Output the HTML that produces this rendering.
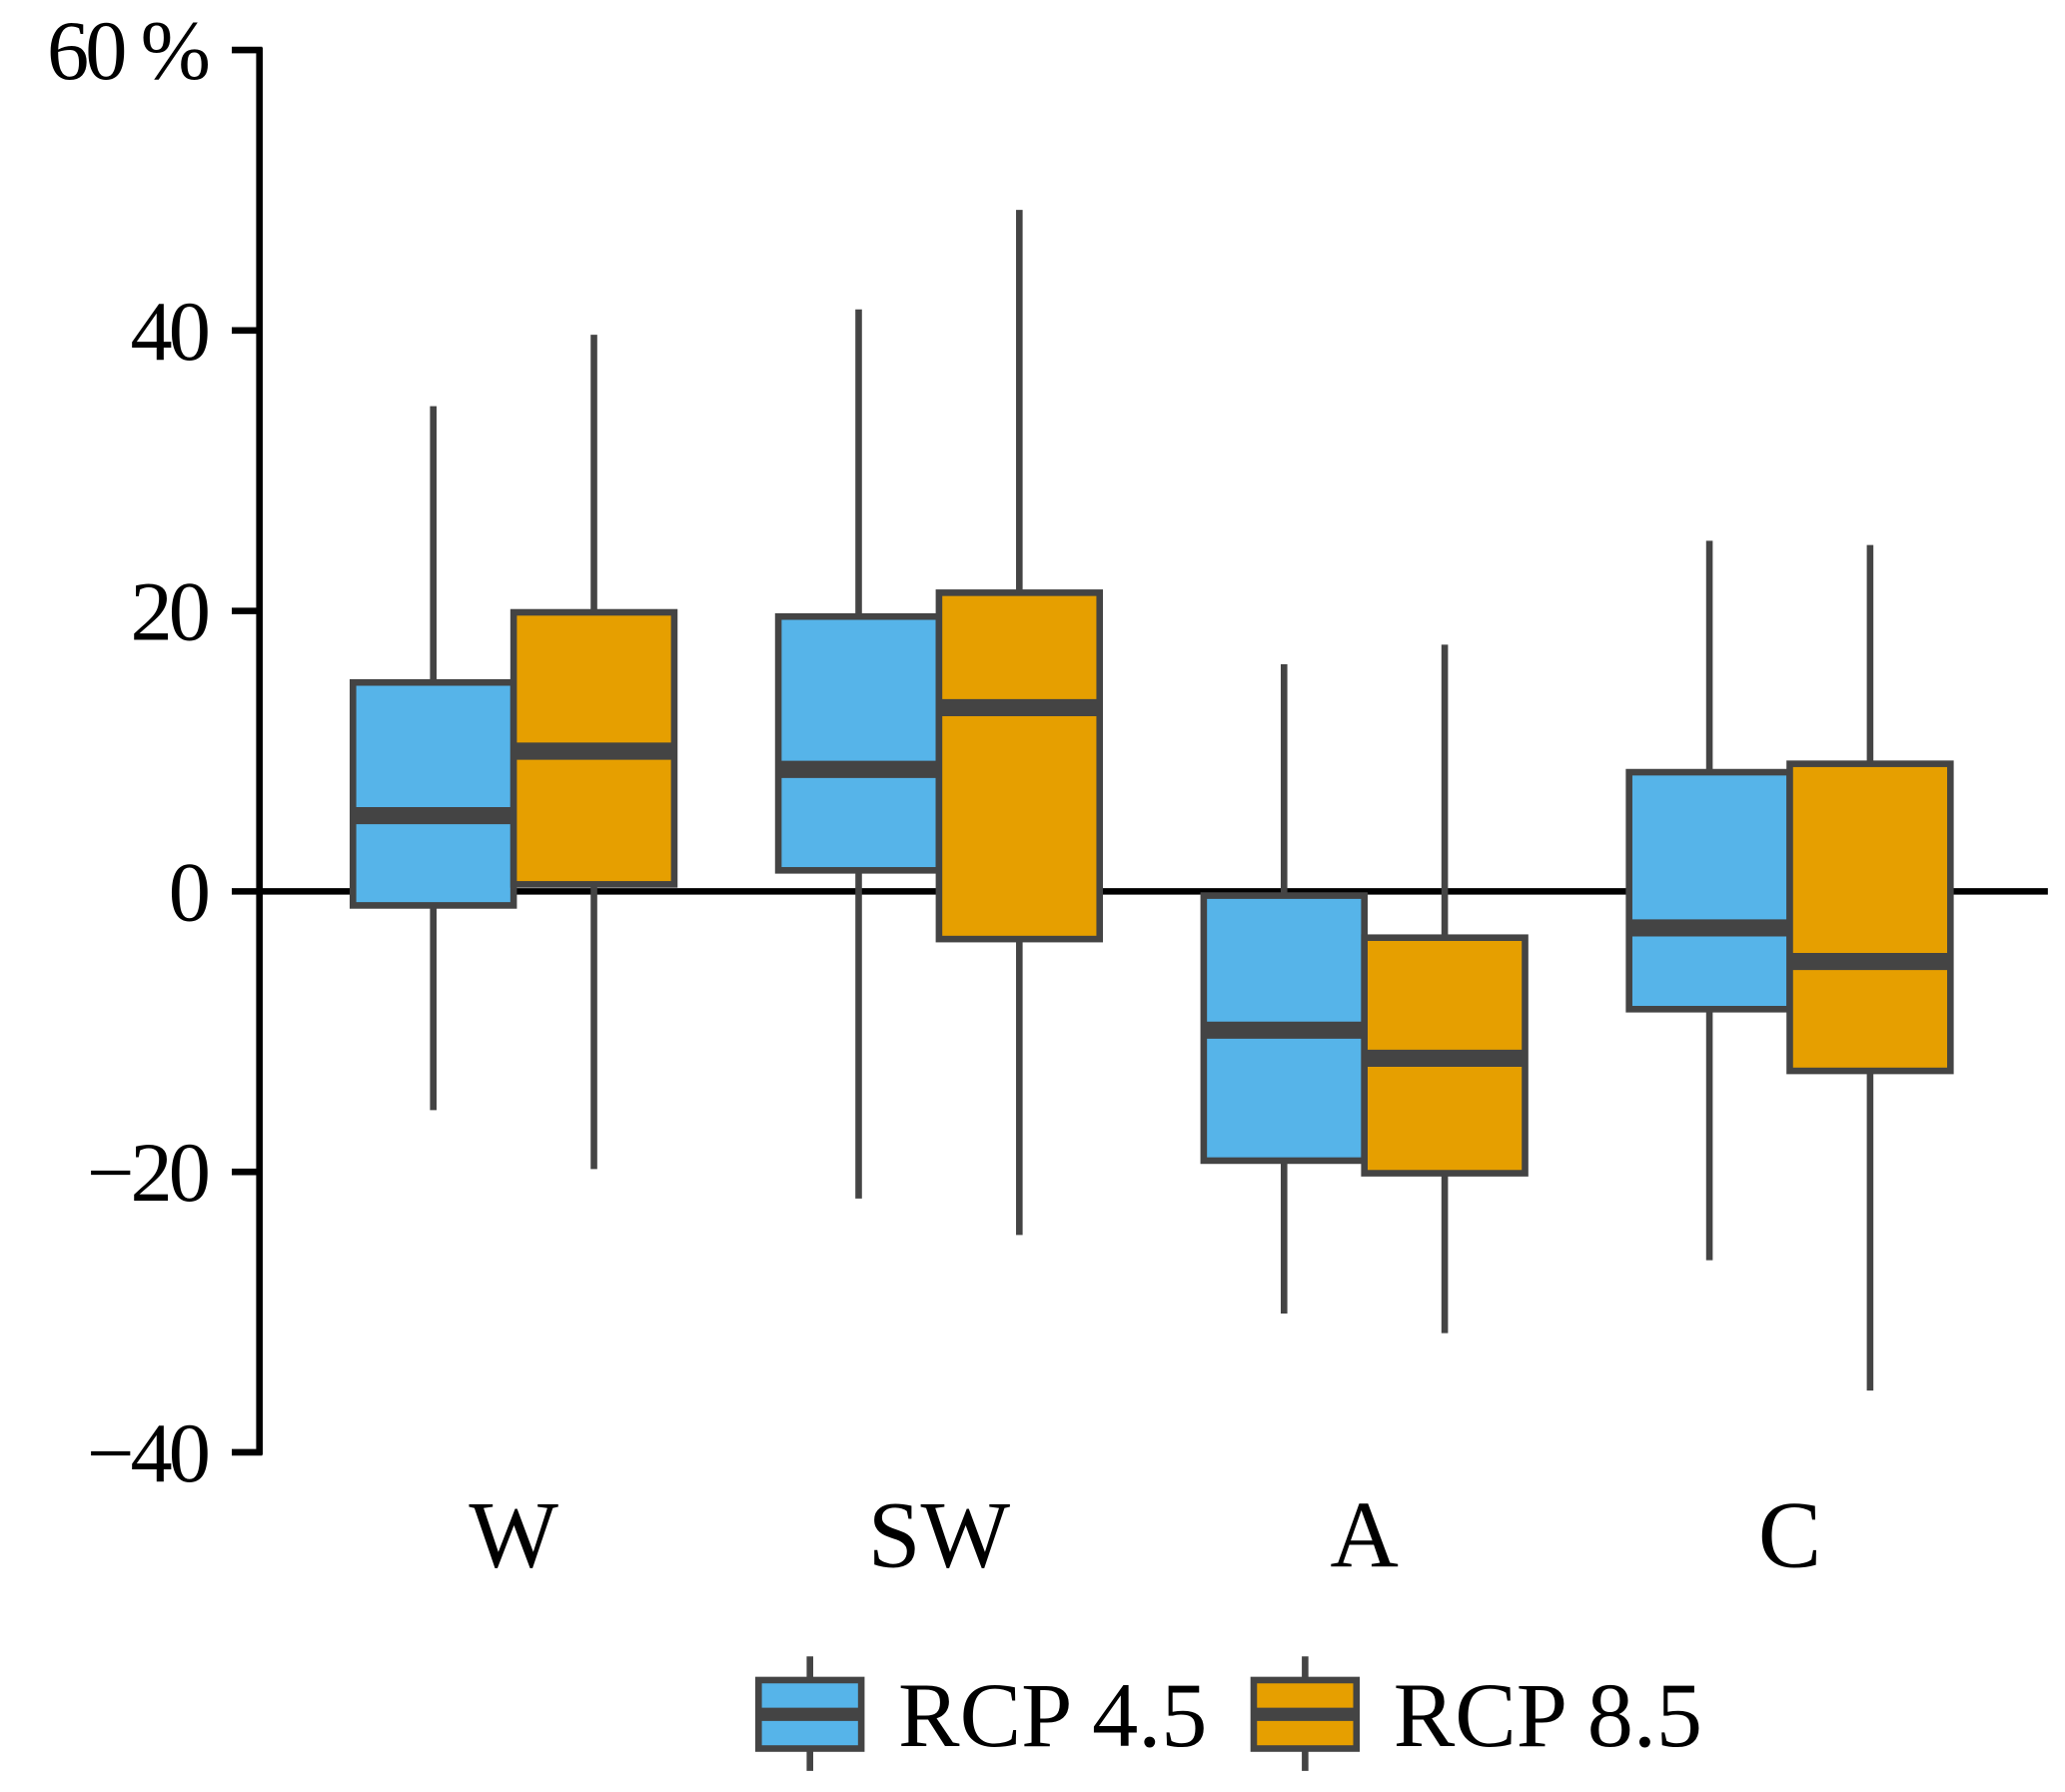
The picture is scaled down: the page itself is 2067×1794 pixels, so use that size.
<!DOCTYPE html>
<html><head><meta charset="utf-8"><style>
html,body{margin:0;padding:0;background:#fff;}
svg{display:block;}
text{font-family:"Liberation Serif",serif;fill:#000;}
</style></head><body>
<svg id="chart" width="2067" height="1794" viewBox="0 0 1568 1361" preserveAspectRatio="none" xmlns="http://www.w3.org/2000/svg">
<g id="axes"></g><g id="boxes"></g><g id="legend"></g>
</svg>
<script>
const categories=["W","SW","A","C"];
const seriesNames=["RCP 4.5","RCP 8.5"];
const seriesColors=["#56b4e9","#e69f00"];
const rcp45Min=[-15.6,-21.9,-30.1,-26.3];
const rcp45Q1=[-1.0,1.5,-19.2,-8.4];
const rcp45Med=[5.4,8.7,-9.9,-2.6];
const rcp45Q3=[14.9,19.6,-0.3,8.5];
const rcp45Max=[34.6,41.5,16.2,25.0];
const rcp85Min=[-19.8,-24.5,-31.5,-35.6];
const rcp85Q1=[0.5,-3.4,-20.1,-12.8];
const rcp85Med=[10.0,13.1,-11.9,-5.0];
const rcp85Q3=[19.9,21.3,-3.3,9.1];
const rcp85Max=[39.7,48.6,17.6,24.7];
const yTicks=[-40,-20,0,20,40,60];
const yTickLabels=["\u221240","\u221220","0","20","40","60 %"];

const NS="http://www.w3.org/2000/svg";
function y(v){return 677-(v)*10.65;}
function xc(i){return 390+i*323;}
function mk(tag,attrs,parent,txt){const e=document.createElementNS(NS,tag);for(const k in attrs)e.setAttribute(k,attrs[k]);if(txt!==undefined)e.textContent=txt;parent.appendChild(e);return e;}
const axes=document.getElementById('axes'),boxes=document.getElementById('boxes'),legend=document.getElementById('legend');

const ax=mk('line',{x1:197,y1:y(60)-2,x2:197,y2:y(-40)+2,stroke:'#000','stroke-width':5},axes);


yTicks.forEach((t,i)=>{
  const tk=mk('line',{x1:176,y1:y(t),x2:199,y2:y(t),stroke:'#000','stroke-width':5},axes);
  
  
  const lb=mk('text',{x:157,y:y(t)+22,'text-anchor':'end','font-size':64,'letter-spacing':-3},axes,yTickLabels[i]);
  
  
});
categories.forEach((c,i)=>{
  const lb=mk('text',{x:xc(i),y:1190,'text-anchor':'middle','font-size':72},axes,c);
  
  
});
const series=[[rcp45Min,rcp45Q1,rcp45Med,rcp45Q3,rcp45Max],[rcp85Min,rcp85Q1,rcp85Med,rcp85Q3,rcp85Max]];
const bw=122;
categories.forEach((c,i)=>{
  series.forEach((s,j)=>{
    const cx=xc(i)+(j===0?-61:61);
    const g=mk('g',{},boxes);
    
    
    mk('line',{x1:cx,y1:y(s[4][i]),x2:cx,y2:y(s[0][i]),stroke:'#444','stroke-width':5},g);
    mk('rect',{x:cx-bw/2,y:y(s[3][i]),width:bw,height:y(s[1][i])-y(s[3][i]),fill:seriesColors[j],stroke:'#444','stroke-width':5},g);
    mk('line',{x1:cx-bw/2,y1:y(s[2][i]),x2:cx+bw/2,y2:y(s[2][i]),stroke:'#444','stroke-width':13},g);
  });
});
const zl=mk('line',{x1:197,y1:y(0),x2:1555,y2:y(0),stroke:'#000','stroke-width':5},axes);



const lx=[576,952];
seriesNames.forEach((n,j)=>{
  const g=mk('g',{},legend);
  
  
  const x0=lx[j];
  mk('line',{x1:x0+39,y1:1258,x2:x0+39,y2:1345,stroke:'#444','stroke-width':5},g);
  mk('rect',{x:x0,y:1276,width:78,height:52,fill:seriesColors[j],stroke:'#444','stroke-width':5},g);
  mk('line',{x1:x0,y1:1302,x2:x0+78,y2:1302,stroke:'#444','stroke-width':10},g);
  mk('text',{x:x0+106,y:1326,'font-size':70},g,n);
});
</script>
</body></html>
